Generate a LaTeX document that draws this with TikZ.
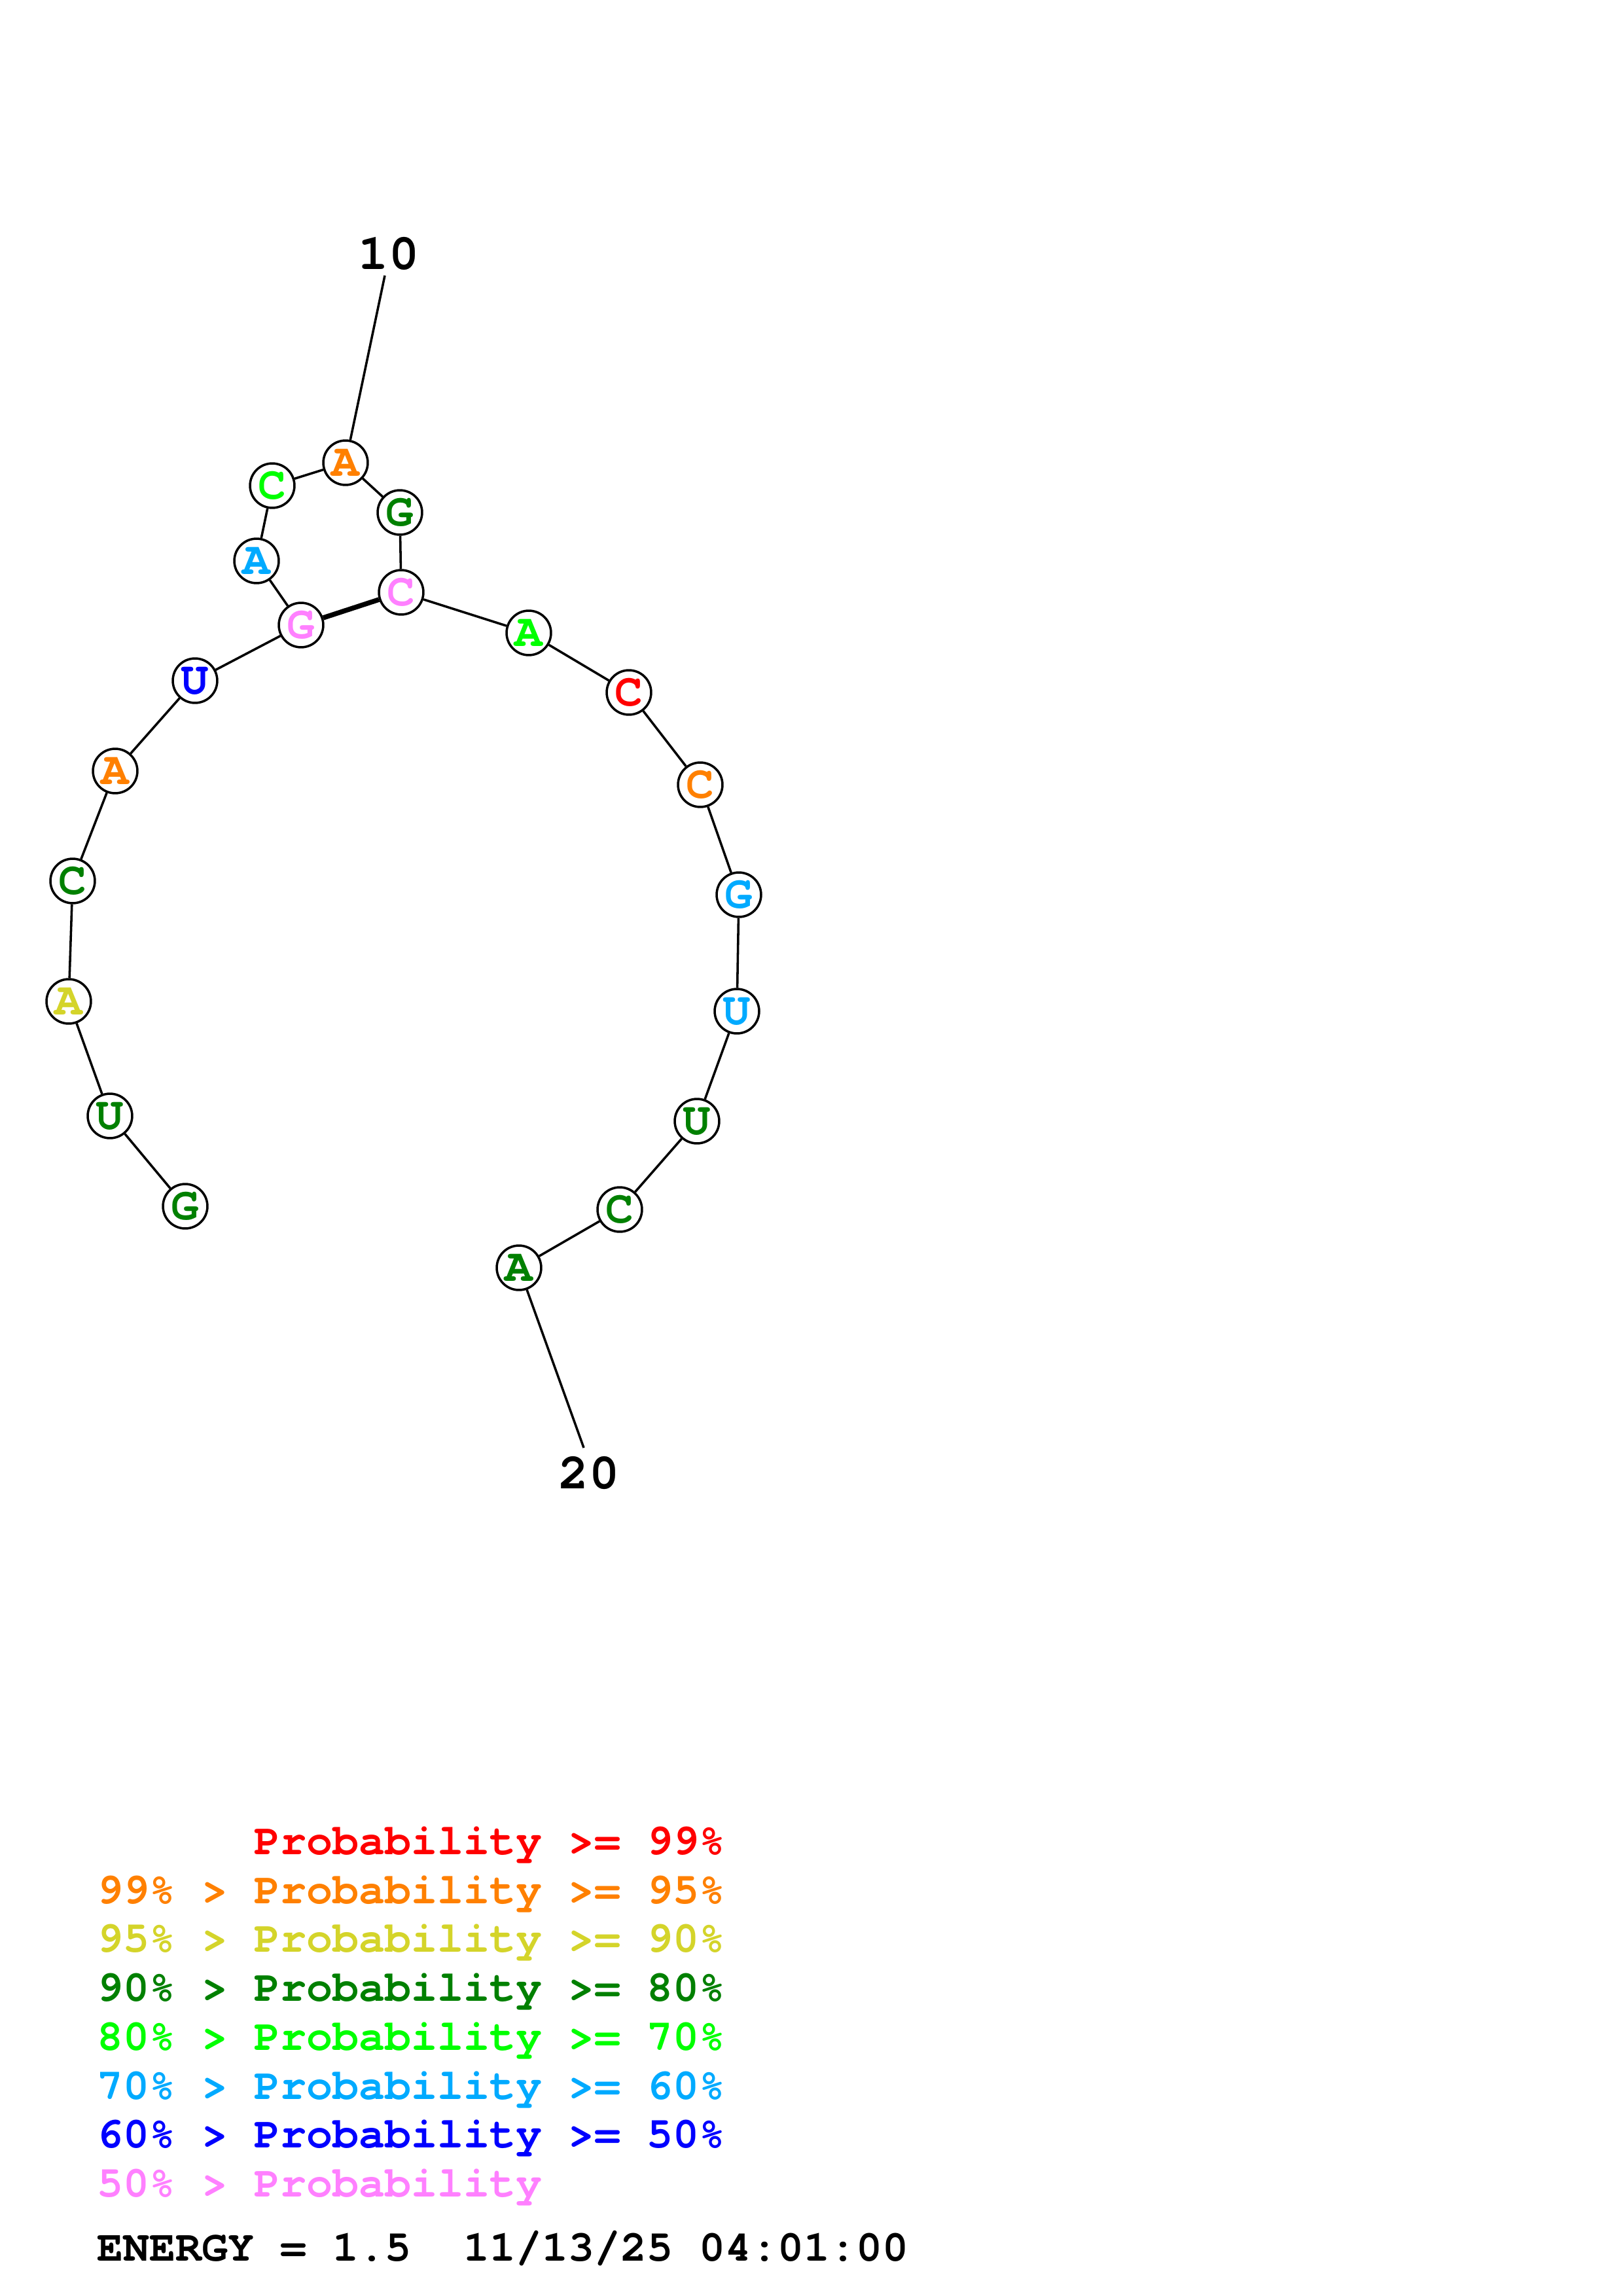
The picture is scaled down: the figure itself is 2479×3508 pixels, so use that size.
\documentclass[tikz,border=0pt]{standalone}
\usepackage{fontspec}
\newfontfamily\cour{texgyrecursor}[Extension=.otf,UprightFont=*-regular,BoldFont=*-bold]
\definecolor{cRed}{RGB}{255,0,0}
\definecolor{cOrange}{RGB}{255,128,0}
\definecolor{cYellow}{RGB}{212,212,42}
\definecolor{cDGreen}{RGB}{0,128,0}
\definecolor{cGreen}{RGB}{0,255,0}
\definecolor{cLBlue}{RGB}{0,170,255}
\definecolor{cBlue}{RGB}{0,0,255}
\definecolor{cPink}{RGB}{255,128,255}
\tikzset{
  nt/.style={circle,draw=black,line width=0.85pt,fill=white,minimum size=16.3pt,inner sep=0pt,
    font=\cour\bfseries\fontsize{17pt}{17pt}\selectfont},
  bond/.style={line width=0.85pt},
  pairbond/.style={line width=1.8pt},
  poslabel/.style={inner sep=0pt,font=\cour\bfseries\fontsize{18.5pt}{18.5pt}\selectfont},
  legend/.style={anchor=base west,inner sep=0pt,font=\cour\bfseries\fontsize{16pt}{16pt}\selectfont}
}
\begin{document}
\begin{tikzpicture}[x=0.24pt,y=-0.24pt]
\useasboundingbox[fill=white] (0,0) rectangle (2479,3508);
% nucleotides
\node[nt,text=cDGreen] (n1) at (283,1843) {G};
\node[nt,text=cDGreen] (n2) at (168,1705) {U};
\node[nt,text=cYellow] (n3) at (105,1530) {A};
\node[nt,text=cDGreen] (n4) at (111,1346) {C};
\node[nt,text=cOrange] (n5) at (176,1178) {A};
\node[nt,text=cBlue] (n6) at (298,1040) {U};
\node[nt,text=cPink] (n7) at (460,955) {G};
\node[nt,text=cLBlue] (n8) at (392,857) {A};
\node[nt,text=cGreen] (n9) at (416,742) {C};
\node[nt,text=cOrange] (n10) at (528,707) {A};
\node[nt,text=cDGreen] (n11) at (611,783) {G};
\node[nt,text=cPink] (n12) at (613,905) {C};
\node[nt,text=cGreen] (n13) at (808,967) {A};
\node[nt,text=cRed] (n14) at (961,1058) {C};
\node[nt,text=cOrange] (n15) at (1070,1199) {C};
\node[nt,text=cLBlue] (n16) at (1129,1367) {G};
\node[nt,text=cLBlue] (n17) at (1126,1545) {U};
\node[nt,text=cDGreen] (n18) at (1065,1713) {U};
\node[nt,text=cDGreen] (n19) at (947,1848) {C};
\node[nt,text=cDGreen] (n20) at (793,1937) {A};
% backbone
\foreach \a/\b in {1/2,2/3,3/4,4/5,5/6,6/7,7/8,8/9,9/10,10/11,11/12,12/13,13/14,14/15,15/16,16/17,17/18,18/19,19/20}
  \draw[bond] (n\a) -- (n\b);
% base pair
\draw[pairbond] (n7) -- (n12);
% position labels
\node[poslabel] (l10) at (594,387) {10};
\coordinate (t10) at (588,421);
\draw[bond] (t10) -- (n10);
\node[poslabel] (l20) at (900,2250) {20};
\coordinate (t20) at (892,2212);
\draw[bond] (n20) -- (t20);
% legend
\node[legend,text=cRed] (g1) at (148,2833) {\phantom{99\% > }Probability >= 99\%};
\node[legend,text=cOrange] (g2) at (148,2908) {99\% > Probability >= 95\%};
\node[legend,text=cYellow] (g3) at (148,2982) {95\% > Probability >= 90\%};
\node[legend,text=cDGreen] (g4) at (148,3057) {90\% > Probability >= 80\%};
\node[legend,text=cGreen] (g5) at (148,3132) {80\% > Probability >= 70\%};
\node[legend,text=cLBlue] (g6) at (148,3207) {70\% > Probability >= 60\%};
\node[legend,text=cBlue] (g7) at (148,3281) {60\% > Probability >= 50\%};
\node[legend,text=cPink] (g8) at (148,3356) {50\% > Probability};
\node[legend,text=black] (en) at (148,3454) {ENERGY = 1.5~~11/13/25 04:01:00};
\end{tikzpicture}
\end{document}
